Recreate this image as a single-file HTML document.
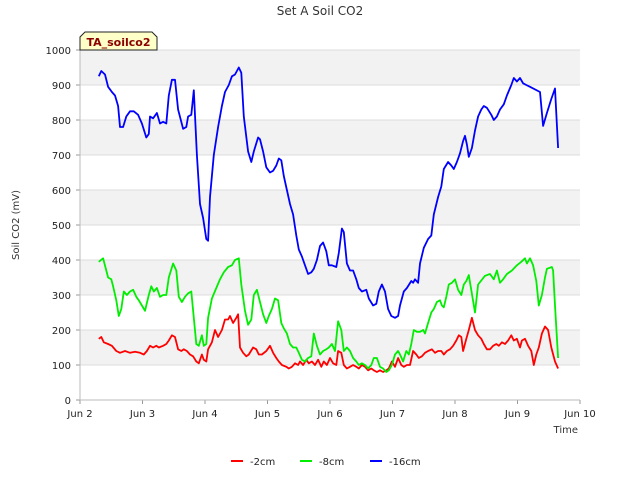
<!DOCTYPE html>
<html><head><meta charset="utf-8"><style>
body{margin:0;background:#fff;font-family:"Liberation Sans","DejaVu Sans",sans-serif}
svg text{font-family:"DejaVu Sans","Liberation Sans",sans-serif}
</style></head><body>
<svg id="chart" width="640" height="480" xmlns="http://www.w3.org/2000/svg"></svg>
<script>
const xTickLabels=["Jun 2","Jun 3","Jun 4","Jun 5","Jun 6","Jun 7","Jun 8","Jun 9","Jun 10"];
const yTickLabels=[0,100,200,300,400,500,600,700,800,900,1000];
const seriesNames=["-2cm","-8cm","-16cm"];
const blueT=[0.30,0.34,0.40,0.45,0.51,0.56,0.61,0.64,0.69,0.74,0.80,0.86,0.93,0.99,1.06,1.10,1.12,1.17,1.23,1.28,1.33,1.38,1.42,1.47,1.52,1.57,1.65,1.70,1.73,1.78,1.82,1.87,1.92,1.97,2.02,2.05,2.08,2.14,2.21,2.27,2.32,2.38,2.43,2.48,2.54,2.58,2.62,2.69,2.74,2.78,2.85,2.88,2.93,2.98,3.04,3.09,3.14,3.18,3.22,3.26,3.31,3.36,3.41,3.46,3.50,3.55,3.60,3.65,3.70,3.74,3.79,3.84,3.89,3.94,3.98,4.03,4.10,4.14,4.19,4.22,4.27,4.32,4.37,4.42,4.46,4.51,4.58,4.62,4.69,4.74,4.78,4.83,4.88,4.93,4.98,5.04,5.09,5.12,5.18,5.23,5.30,5.33,5.36,5.41,5.44,5.50,5.57,5.62,5.66,5.73,5.78,5.82,5.89,5.94,5.98,6.03,6.08,6.13,6.16,6.19,6.22,6.27,6.32,6.37,6.42,6.46,6.51,6.58,6.62,6.67,6.72,6.78,6.83,6.90,6.94,6.99,7.04,7.09,7.14,7.20,7.36,7.41,7.47,7.54,7.60,7.65];
const blueV=[925,940,930,895,880,870,840,780,780,810,825,825,815,790,750,760,810,805,820,790,795,790,870,915,915,830,775,780,810,815,885,700,560,520,460,455,580,700,780,840,880,900,925,930,950,935,810,710,680,710,750,745,710,665,650,655,670,690,685,640,600,560,530,470,430,410,385,360,365,375,400,440,450,425,385,385,380,420,490,480,390,370,370,345,320,310,315,290,270,275,310,330,310,260,240,235,240,270,310,320,340,335,345,335,390,435,460,470,530,580,610,660,680,670,660,680,705,740,755,730,695,720,770,810,830,840,835,815,800,810,830,845,870,900,920,910,920,905,900,895,880,783,820,860,890,720];
const greenT=[0.30,0.37,0.42,0.45,0.50,0.53,0.58,0.62,0.66,0.70,0.75,0.80,0.85,0.90,0.94,0.99,1.04,1.10,1.14,1.18,1.23,1.28,1.33,1.38,1.42,1.49,1.54,1.58,1.63,1.68,1.73,1.78,1.82,1.86,1.90,1.95,1.98,2.02,2.05,2.11,2.18,2.24,2.30,2.37,2.43,2.48,2.54,2.58,2.64,2.69,2.74,2.78,2.83,2.88,2.93,2.98,3.02,3.07,3.12,3.17,3.22,3.26,3.31,3.36,3.41,3.46,3.50,3.55,3.60,3.65,3.70,3.74,3.79,3.84,3.89,3.94,3.98,4.03,4.08,4.13,4.18,4.22,4.27,4.32,4.37,4.42,4.46,4.51,4.56,4.61,4.66,4.70,4.75,4.80,4.85,4.90,4.94,4.99,5.04,5.09,5.12,5.17,5.22,5.26,5.30,5.34,5.39,5.44,5.49,5.52,5.57,5.62,5.66,5.71,5.76,5.79,5.82,5.86,5.90,5.95,6.00,6.05,6.10,6.14,6.18,6.22,6.32,6.37,6.48,6.56,6.62,6.67,6.72,6.77,6.83,6.91,6.99,7.06,7.12,7.15,7.20,7.25,7.30,7.34,7.39,7.44,7.47,7.55,7.57,7.60,7.65];
const greenV=[395,405,370,350,345,325,285,240,260,310,300,310,315,295,285,270,255,300,325,310,320,295,300,300,350,390,370,295,280,295,305,310,235,160,155,185,155,160,235,290,320,345,365,380,385,400,405,330,255,215,230,300,315,280,245,220,240,260,290,285,220,205,190,160,150,150,135,115,110,120,125,190,155,130,140,145,150,160,140,225,200,140,150,140,120,110,100,105,100,90,100,120,120,95,90,80,85,100,130,140,130,110,140,130,160,200,195,195,200,190,220,250,260,280,285,270,265,295,330,335,345,315,300,330,340,357,250,330,355,360,345,370,335,345,360,370,385,395,405,390,405,385,340,270,300,350,375,380,370,270,120];
const redT=[0.30,0.34,0.38,0.45,0.51,0.58,0.64,0.72,0.80,0.88,0.96,1.02,1.07,1.12,1.17,1.22,1.26,1.33,1.38,1.42,1.47,1.52,1.57,1.62,1.66,1.71,1.76,1.81,1.86,1.90,1.95,1.98,2.02,2.05,2.11,2.16,2.21,2.27,2.32,2.37,2.40,2.45,2.50,2.53,2.56,2.61,2.66,2.70,2.77,2.82,2.86,2.91,2.98,3.04,3.09,3.14,3.18,3.23,3.30,3.34,3.39,3.44,3.49,3.52,3.57,3.62,3.66,3.71,3.76,3.81,3.86,3.90,3.95,4.00,4.05,4.10,4.13,4.18,4.22,4.27,4.32,4.37,4.42,4.46,4.51,4.56,4.61,4.66,4.70,4.75,4.80,4.85,4.90,4.94,4.99,5.04,5.09,5.14,5.18,5.23,5.28,5.33,5.38,5.42,5.47,5.52,5.57,5.63,5.68,5.73,5.78,5.82,5.87,5.92,5.97,6.02,6.06,6.10,6.13,6.18,6.22,6.27,6.32,6.37,6.42,6.46,6.51,6.56,6.61,6.66,6.70,6.75,6.80,6.85,6.90,6.94,6.99,7.04,7.07,7.12,7.17,7.22,7.26,7.30,7.34,7.39,7.44,7.49,7.54,7.60,7.65];
const redV=[175,180,165,160,155,140,135,140,135,138,135,130,140,155,150,155,150,155,160,170,185,180,145,140,145,140,130,125,110,105,130,115,110,145,165,200,180,200,230,230,240,220,235,245,150,135,125,130,150,145,130,130,140,155,135,120,110,100,95,90,95,105,100,110,100,115,105,110,100,115,95,110,100,120,105,100,140,135,100,90,95,100,95,90,100,95,85,90,85,80,85,80,85,90,110,95,120,100,95,100,100,140,130,120,125,135,140,145,135,140,140,130,140,145,155,170,185,180,140,175,200,235,200,185,175,160,145,145,155,160,155,165,160,170,185,170,175,150,170,175,155,140,100,130,150,190,210,200,150,110,90];
const colors=["#ff0000","#00ee00","#0000ff"];
const NS="http://www.w3.org/2000/svg";
const svg=document.getElementById('chart');
const L=80,R=580,T=50,B=400;
function xs(d){return L+(R-L)*d/8;}
function ys(v){return B-(B-T)*v/1000;}
function mk(tag,at,parent){const e=document.createElementNS(NS,tag);for(const k in at)e.setAttribute(k,at[k]);(parent||svg).appendChild(e);return e;}
let e;
e=mk('rect',{x:L,y:T,width:R-L,height:B-T,fill:'#fff'});


for(let i=0;i<10;i+=2){
 e=mk('rect',{x:L,y:ys(yTickLabels[i+2]),width:R-L,height:ys(yTickLabels[i+1])-ys(yTickLabels[i+2]),fill:'#f2f2f2'});
 
 
}
yTickLabels.forEach(v=>{
 e=mk('line',{x1:L,x2:R,y1:ys(v),y2:ys(v),stroke:'#dcdcdc','stroke-width':1});
 
 
 e=mk('line',{x1:L-4,x2:L,y1:ys(v),y2:ys(v),stroke:'#999'});
 
 
 e=mk('text',{x:L-9,y:ys(v)+4,'text-anchor':'end','font-size':10,fill:'#222'});
 e.textContent=v;
 
 
});
xTickLabels.forEach((t,i)=>{
 e=mk('line',{x1:xs(i),x2:xs(i),y1:B,y2:B+4,stroke:'#999'});
 
 
 e=mk('text',{x:xs(i),y:B+17,'text-anchor':'middle','font-size':10,fill:'#222'});
 e.textContent=t;
 
 
});
e=mk('line',{x1:L,x2:L,y1:T,y2:B,stroke:'#bbb'});


e=mk('line',{x1:L,x2:R,y1:B,y2:B,stroke:'#bbb'});


const data=[[redT,redV],[greenT,greenV],[blueT,blueV]];
data.forEach((s,k)=>{
 const n=Math.min(s[0].length,s[1].length);
 const pts=[];
 for(let i=0;i<n;i++)pts.push(xs(s[0][i]).toFixed(1)+','+ys(s[1][i]).toFixed(1));
 e=mk('polyline',{points:pts.join(' '),fill:'none',stroke:colors[k],'stroke-width':1.8,'stroke-linejoin':'round'});
 
 
});
e=mk('text',{x:320,y:15,'text-anchor':'middle','font-size':12,fill:'#333'});
e.textContent='Set A Soil CO2';


e=mk('text',{x:19,y:225,'text-anchor':'middle','font-size':10,fill:'#333',transform:'rotate(-90 19 225)'});
e.textContent='Soil CO2 (mV)';


e=mk('text',{x:578,y:433,'text-anchor':'end','font-size':10,fill:'#333'});
e.textContent='Time';


e=mk('path',{d:'M80,50 L80,37 L85,32 L152,32 L157,37 L157,50 Z',fill:'#ffffc8',stroke:'#222','stroke-width':1});


e=mk('text',{x:118.5,y:46,'text-anchor':'middle','font-size':11,'font-weight':'bold',fill:'#8b0000'});
e.textContent='TA_soilco2';


const legX=[231,300,370];
seriesNames.forEach((n,k)=>{
 const g=mk('g',{});
 
 
 e=mk('line',{x1:legX[k],x2:legX[k]+12,y1:461,y2:461,stroke:colors[k],'stroke-width':2},g);
 
 
 e=mk('text',{x:legX[k]+19,y:465,'font-size':10,fill:'#222'},g);
 e.textContent=n;
 
 
});
</script>
</body></html>
